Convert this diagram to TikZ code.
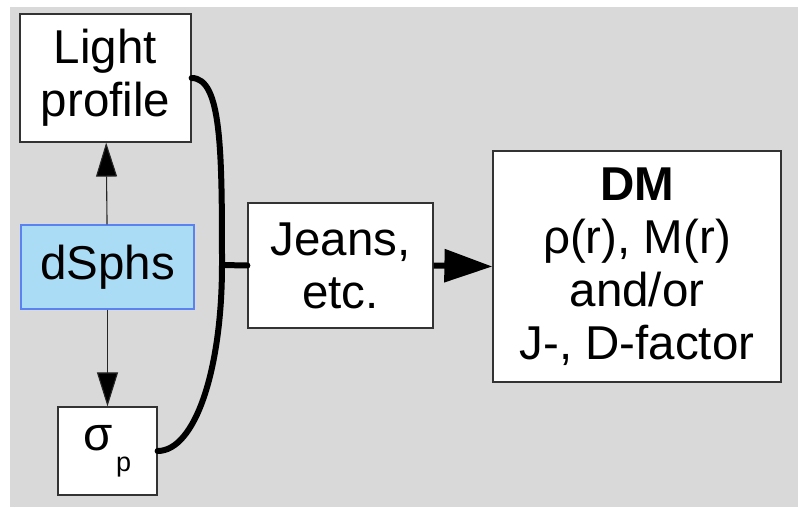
\documentclass[tikz,border=0pt]{standalone}
\usepackage{fontspec}
\setmainfont{Liberation Sans}
\usetikzlibrary{arrows.meta,positioning}
\definecolor{bggray}{HTML}{D9D9D9}
\definecolor{skyfill}{HTML}{AADCF6}
\definecolor{skyline}{HTML}{5A82F0}
\begin{document}
\begin{tikzpicture}
    [x=1pt, y=-1pt,
    every node/.style={
      font=\fontsize{47.5}{53}\selectfont,
      align=center,
      inner sep=0pt},
    box/.style={
      rectangle,
      draw=black!80,
      line width=1.2pt,
      fill=white},
    thin arrow/.style={
      draw=black!85,
      line width=1.1pt,
      -{Triangle[length=34pt,width=21pt]}},
    thick line/.style={
      line width=6pt,
      line cap=round}
    ]
    \useasboundingbox (0,0) rectangle (798,507);
    \fill[bggray] (10,7) rectangle (798,507);
    \node (light) [box, minimum width=171pt, minimum height=128pt] at (105.5,78) {Light\\profile};
    \node (dsphs) [box, draw=skyline, fill=skyfill, minimum width=173pt, minimum height=84pt] at (107.5,267) {dSphs};
    \node (sigma) [box, minimum width=99pt, minimum height=88pt] at (107.5,451) {σ\kern3pt\raisebox{-21pt}{\fontsize{27}{30}\selectfont p}};
    \node (jeans) [box, minimum width=185pt, minimum height=125pt] at (340.5,265.5) {Jeans,\\etc.};
    \node (dm) [box, minimum width=288pt, minimum height=231pt] at (637,266.5) {\textbf{DM}\\ρ(r), M(r)\\and/or\\J-, D-factor};
    \coordinate (join) at (222,265);
    \path[thin arrow]
      (dsphs) edge (light)
      (dsphs) edge (sigma);
    \draw[thick line] (light.east) .. controls +(30,0) and (222,150) .. (join)
      .. controls (222,370) and (195,451) .. (sigma.east);
    \draw[thick line] (join) -- (jeans.west);
    \draw[line width=6pt, -{Triangle[length=48pt,width=32pt]}] (jeans.east) -- (dm.west);
\end{tikzpicture}
\end{document}
